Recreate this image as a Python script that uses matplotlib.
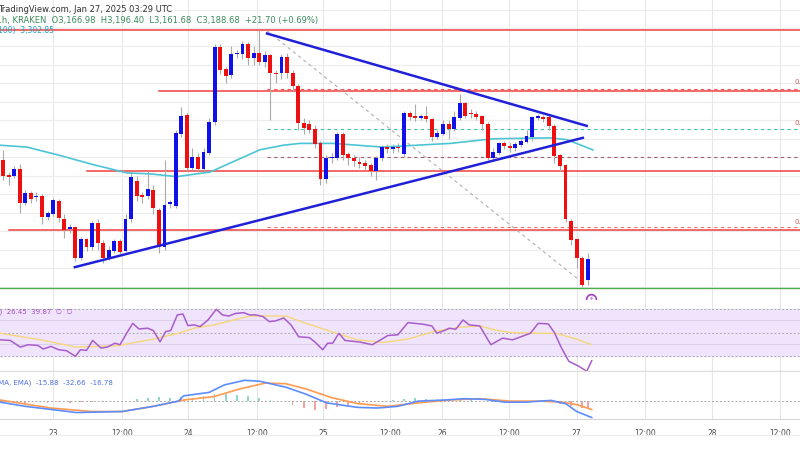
import matplotlib
matplotlib.use("Agg")
import matplotlib.pyplot as plt
import numpy as np

# ---------------- data ----------------
opens = [3297,3280,3280,3287,3251,3261,3257,3258,3236,3239,3252,3233,3223,3224,3191,3211,3203,3229,3207,3191,
         3199,3209,3199,3233,3274,3259,3258,3264,3243,3203,3250,3248,3326,3345,3289,3300,3288,3305,3338,3419,
         3395,3389,3412,3412,3422,3408,3413,3403,3410,3391,3391,3408,3391,3377,3337,3336,3330,3315,3277,3299,
         3300,3325,3303,3299,3295,3293,3291,3285,3299,3311,3309,3311,3304,3348,3344,3343,3344,3341,3322,3326,
         3336,3331,3343,3358,3348,3347,3344,3336,3300,3305,3315,3312,3310,3314,3317,3322,3343,3343,3343,3334,
         3302,3291,3231,3211,3191,3167]
closes = [3280,3279,3287,3251,3261,3255,3258,3236,3239,3253,3234,3222,3224,3191,3211,3203,3229,3207,3191,3199,
          3209,3198,3233,3278,3258,3257,3265,3245,3203,3248,3251,3326,3344,3289,3300,3288,3305,3338,3419,3395,
          3388,3412,3413,3422,3408,3413,3403,3410,3391,3390,3408,3391,3378,3337,3332,3330,3315,3277,3299,3300,
          3325,3303,3299,3296,3293,3291,3285,3299,3311,3309,3311,3310,3348,3344,3343,3344,3342,3322,3326,3336,
          3331,3343,3358,3345,3347,3344,3336,3300,3305,3315,3312,3310,3314,3317,3323,3343,3344,3342,3334,3302,
          3291,3233,3211,3191,3162,3189]
highs = [3308,3284,3290,3293,3265,3263,3262,3260,3242,3256,3255,3238,3228,3226,3214,3213,3231,3233,3210,3204,
         3212,3211,3238,3285,3280,3262,3285,3270,3245,3297,3254,3330,3354,3348,3310,3305,3310,3342,3423,3423,
         3398,3420,3416,3426,3425,3420,3438,3415,3412,3395,3412,3413,3395,3379,3342,3340,3335,3318,3302,3305,
         3327,3327,3306,3302,3300,3297,3294,3301,3313,3314,3314,3315,3350,3350,3358,3347,3355,3343,3330,3340,
         3340,3350,3368,3360,3352,3350,3346,3338,3310,3317,3318,3315,3317,3320,3330,3345,3347,3346,3346,3336,
         3304,3293,3233,3213,3193,3196]
lows = [3275,3270,3277,3240,3248,3250,3253,3228,3232,3236,3230,3213,3218,3188,3189,3198,3200,3200,3186,3189,
        3196,3195,3197,3230,3253,3250,3255,3238,3196,3200,3245,3245,3322,3285,3286,3284,3284,3302,3335,3390,
        3380,3386,3408,3406,3400,3400,3400,3398,3340,3380,3385,3386,3372,3330,3325,3326,3310,3270,3272,3294,
        3297,3297,3292,3290,3288,3286,3280,3275,3296,3305,3305,3306,3300,3340,3339,3340,3338,3318,3320,3324,
        3320,3328,3340,3342,3343,3340,3330,3297,3297,3302,3309,3306,3307,3311,3315,3318,3340,3338,3330,3294,
        3285,3230,3205,3180,3160,3162]

ema_idx = [-0.5,4.3,10.2,16.2,22.3,26.4,31.2,37.2,42.0,46.1,50.3,53.3,59.2,68.2,80.3,88.0,98.2,101.3,105.9]
ema_val = [3313,3311,3302,3292,3283,3282,3279,3284,3297,3308,3313,3315,3315,3311,3315,3320,3321,3319,3308]

rsi_idx = [-0.5,1.3,3.1,4.5,6.3,7.2,8.6,10.0,11.4,13.0,13.9,15.0,16.1,17.6,18.7,20.1,21.0,22.2,23.3,24.4,26.0,27.0,
           28.2,29.2,30.1,31.3,32.3,33.2,34.3,35.4,36.8,38.3,39.4,40.5,41.8,43.2,44.3,45.4,46.7,47.8,48.9,50.4,51.7,
           53.1,55.0,56.1,57.4,58.3,59.2,60.3,61.4,64.1,66.3,67.8,69.1,70.9,72.7,75.5,77.0,77.9,79.2,80.1,81.3,82.6,
           83.7,85.6,87.6,89.7,91.5,94.7,96.1,97.9,99.0,100.2,101.6,103.4,104.8,105.7]
rsi_val = [43.9,43.4,37.8,39.8,39.2,36.2,38.4,35.6,34.8,30.1,35.6,35.1,43.4,37.0,37.8,41.1,39.8,49.4,57.7,53.0,53.6,51.6,
           42.2,50.8,51.6,64.7,65.5,55.8,56.4,55.0,60.5,69.4,64.7,63.8,66.0,66.6,64.7,64.7,63.3,59.1,59.7,62.2,56.4,
           46.4,45.8,41.7,35.6,41.1,41.1,49.4,43.4,42.0,39.8,43.9,47.5,48.1,58.3,56.9,55.5,49.4,51.6,53.6,52.8,60.5,
           56.4,55.5,39.8,45.3,43.9,49.4,57.7,57.2,50.0,37.8,25.9,21.8,17.6,26.45]
rsima_idx = [-0.5,6.8,13.2,20.5,27.0,31.5,34.3,37.9,44.3,50.8,54.4,59.9,63.6,68.2,72.7,77.3,81.9,85.6,88.3,91.1,95.6,99.3,103.0,105.7]
rsima_val = [49.4,43.9,37.8,38.9,44.5,49.4,53.6,56.4,63.8,63.8,57.7,49.4,43.9,41.7,44.5,50.8,54.4,55.5,52.2,50.0,49.4,49.4,44.5,39.87]

macd_idx = [-0.5,4.0,13.2,21.4,27.0,31.5,32.4,37.0,39.8,43.4,46.2,50.8,54.4,58.1,63.6,67.2,70.9,74.6,79.2,82.8,86.5,90.1,93.8,98.4,101.1,103.0,105.7]
macd_val = [-2.1,-10.4,-22.8,-20.7,-10.4,0,10.4,17.3,32.4,41.4,39.3,27.6,13.8,-3.5,-12.4,-13.8,-10.4,0,2.1,4.8,3.5,-2.1,-2.1,1.4,-5.5,-20.7,-32.66]
sig_idx = [-0.5,8.6,15.9,21.4,27.0,32.4,37.9,42.5,47.1,50.8,54.4,59.0,63.6,69.1,74.6,80.1,85.6,91.1,96.6,100.2,103.0,105.7]
sig_val = [2.1,-13.8,-20.7,-20.7,-10.4,2.1,9.0,24.2,35.9,34.5,24.2,6.9,-4.8,-10.4,-3.5,2.1,4.8,0,0,-2.1,-6.9,-16.78]
hist_idx = list(range(0, 105, 2)) + [105]
hist_val = [-2,-3,-3,-2,-3,-2,-3,-2,-1,-1,0,1,4,6,8,7,9,6,10,14,15,12,10,6,3,-2,-8,-14,-17,-15,-12,-8,-5,-2,0,2,5,6,5,4,3,3,2,0,-1,-1,0,0,1,0,-5,-10,-14,-15.88]

tick_idx = [9.0,21.4,33.2,45.6,57.5,69.5,78.8,90.8,103.0,115.3,127.3,139.5]
tick_labels = ["23","12:00","24","12:00","25","12:00","26","12:00","27","12:00","28","12:00"]

# support / resistance levels and annotations
red_levels = [3438, 3372, 3285, 3221]
red_level_start = [-1, 28, 15, 1]
dashed_levels = [3374, 3331, 3300, 3224]
dashed_colors = ["#f05050", "#40c0a0", "#a06070", "#f07070"]
fib_labels = [("0.786", 3378), ("0.618", 3334), ("0.382", 3227)]
green_level = 3158
upper_trend = ([47.4, 104.8], [3434, 3334])
lower_trend = ([12.9, 104.1], [3181, 3321])
diag_line = ([47.4, 104.5], [3437, 3162])

# ---------------- figure ----------------
W, H = 800, 450
fig = plt.figure(figsize=(8, 4.5), dpi=100)
fig.patch.set_facecolor("white")
xlim = (-0.54, 143.1)

ax = fig.add_axes([0, 150/H, 1, 300/H])
ax_r = fig.add_axes([0, 78/H, 1, 72/H])
ax_m = fig.add_axes([0, 30/H, 1, 48/H])

for a in (ax, ax_r, ax_m):
    a.set_xlim(*xlim)
    for s in a.spines.values():
        s.set_visible(False)
    a.tick_params(left=False, labelleft=False, bottom=False, labelbottom=False)
    for t in tick_idx:
        a.axvline(t, color="#e6e6e6", lw=0.8, zorder=0)

# main pane
ax.set_ylim(3145.4, 3470.3)
for p in range(3160, 3470, 20):
    ax.axhline(p, color="#ececec", lw=0.8, zorder=0)

idx = np.arange(len(opens))
o = np.array(opens); c = np.array(closes)
up = c >= o
cols = np.where(up, "#1010e8", "#ee1010")
ax.vlines(idx, lows, highs, color="#aaaaaa", lw=0.8, zorder=2)
ax.bar(idx, np.abs(c - o) + 0.6, bottom=np.minimum(o, c) - 0.3, width=0.7, color=cols, zorder=3)

ax.plot(ema_idx, ema_val, color="#4cc4d4", lw=1.2, zorder=2)

for lv, st in zip(red_levels, red_level_start):
    ax.plot([st, xlim[1]], [lv, lv], color="#f04040", lw=1.1, zorder=1)
for lv, cc in zip(dashed_levels, dashed_colors):
    ax.plot([47.4, xlim[1]], [lv, lv], color=cc, lw=0.8, ls=(0, (3, 3)), zorder=1)
for lab, lv in fib_labels:
    ax.text(142.2, lv, lab, fontsize=5, color="#d06060", va="bottom", ha="left", clip_on=True)
ax.axhline(green_level, color="#4caf50", lw=1.0, zorder=1)
ax.plot(*diag_line, color="#b0b0b0", lw=0.8, ls=(0, (3, 3)), zorder=1)
ax.plot(*upper_trend, color="#2020d8", lw=1.8, zorder=4)
ax.plot(*lower_trend, color="#2020d8", lw=1.8, zorder=4)
ax.plot([105.6], [3146.5], marker="o", ms=7, mfc="white", mec="#a040c0", mew=1.2, zorder=5, clip_on=False)
ax.text(105.6, 3146.5, "⚡", fontsize=5, color="#a040c0", ha="center", va="center", zorder=6)

# RSI pane
ax_r.set_ylim(17, 77.2)
ax_r.axhspan(30, 70, color="#f0e4fc", zorder=0)
for lv in (30, 50, 70):
    ax_r.axhline(lv, color="#aaaaaa", lw=0.7, ls=(0, (2, 2)))
for lv in (40.3, 60.5):
    ax_r.axhline(lv, color="#dcd0e8", lw=0.7)
ax_r.plot(rsima_idx, rsima_val, color="#f5d77a", lw=1.0)
ax_r.plot(rsi_idx, rsi_val, color="#a85ccc", lw=1.1)
ax_r.axhline(17.5, color="#dddddd", lw=1.0)

# MACD pane
ax_m.set_ylim(-37.6, 57.9)
ax_m.axhline(0, color="#aaaaaa", lw=0.7, ls=(0, (2, 2)))
hv = np.array(hist_val)
ax_m.bar(hist_idx, hv, width=0.3, color=np.where(hv >= 0, "#8fd6c8", "#f7a0a0"))
ax_m.plot(sig_idx, sig_val, color="#ff9a50", lw=1.2)
ax_m.plot(macd_idx, macd_val, color="#5c8dff", lw=1.2)
ax_m.axhline(-37.3, color="#cccccc", lw=1.2)
ax_m.set_xticks(tick_idx)
ax_m.set_xticklabels(tick_labels, fontsize=5.5, color="#444444")
ax_m.tick_params(labelbottom=True, pad=3)

fig.add_artist(plt.Line2D([0, 1], [1 - 435/H, 1 - 435/H], color="#eeeeee", lw=1))

# header texts
fig.text(-0.002, 1 - 9/H, "TradingView.com, Jan 27, 2025 03:29 UTC", fontsize=6, color="#333333", va="center")
fig.text(-0.058, 1 - 20/H, "ETH/USD, 1h, KRAKEN  O3,166.98  H3,196.40  L3,161.68  C3,188.68  +21.70 (+0.69%)",
         fontsize=6, color="#3a8a5a", va="center")
fig.text(-0.03, 1 - 30/H, "EMA (100)  3,302.85", fontsize=5.5, color="#22a0c0", va="center")
fig.text(-0.06, 1 - 312/H, "RSI (14, close)  26.45  39.87  ∅  ∅", fontsize=5, color="#a050c0", va="center")
fig.text(-0.112, 1 - 383/H, "MACD (12, 26, close, 9, EMA, EMA)  -15.88  -32.66  -16.78", fontsize=5, color="#5070e0", va="center")

fig.savefig("out.png", dpi=100)
